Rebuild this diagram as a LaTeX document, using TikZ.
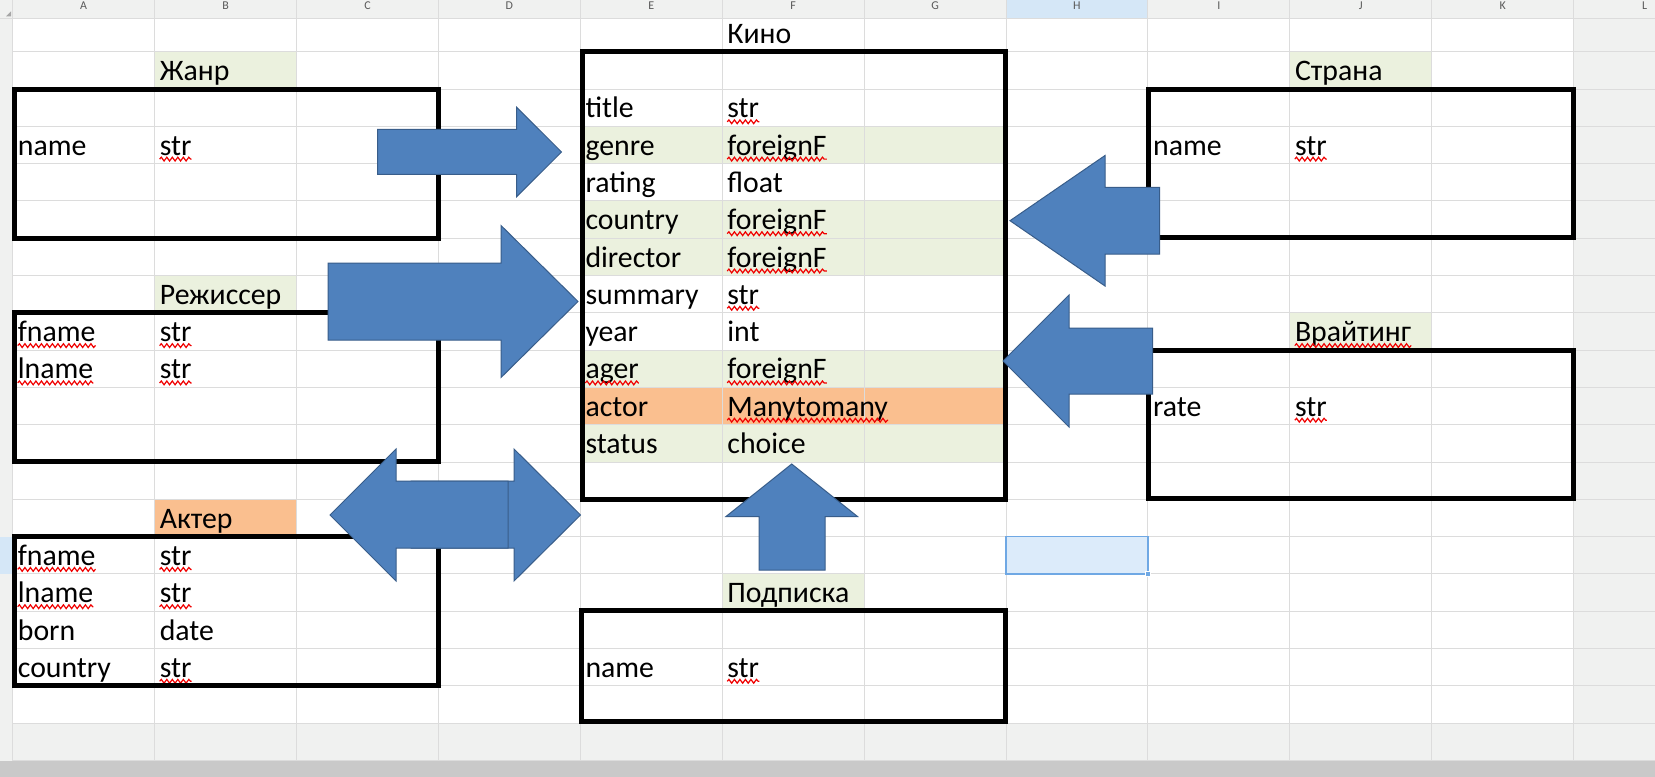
\documentclass[tikz,border=0pt]{standalone}
\usepackage{fontspec}
\setmainfont{Carlito}
\usetikzlibrary{decorations.pathmorphing}

\definecolor{gridgray}{HTML}{DCDCDC}
\definecolor{sheetgray}{HTML}{F0F1F0}
\definecolor{labelgreen}{HTML}{EBF1DE}
\definecolor{labelorange}{HTML}{FABF8F}
\definecolor{arrowblue}{HTML}{4F81BD}
\definecolor{arrowedge}{HTML}{385D8A}
\definecolor{selblue}{HTML}{DCEBFA}
\definecolor{seledge}{HTML}{6FA8E4}
\definecolor{headblue}{HTML}{D5E7F7}
\definecolor{squigred}{HTML}{F00000}

\newcommand{\cellfont}{\fontsize{29.9}{36}\selectfont}
\newcommand{\squig}[1]{\draw[squiggle] ([yshift=-4bp]#1.base west) -- ([yshift=-4bp]#1.base east);}

\tikzset{
    cell/.style={anchor=base west, inner sep=0pt, font=\cellfont},
    colhead/.style={anchor=base, inner sep=0pt, font=\fontsize{12}{14}\selectfont, text=black!65},
    gridline/.style={draw=gridgray, line width=1bp},
    tablebox/.style={draw=black, line width=5bp},
    blockarrow/.style={fill=arrowblue, draw=arrowedge, line width=1bp, line join=miter},
    squiggle/.style={draw=squigred, line width=1.2bp, decorate, decoration={snake, segment length=5.5bp, amplitude=1.9bp}},
}

\begin{document}
\begin{tikzpicture}[x=1bp,y=-1bp]
    \useasboundingbox (0,0) rectangle (1655,777);

    % Sheet
    \fill[sheetgray] (0,0) rectangle (1655,777);
    \fill[white] (12.7,18.3) rectangle (1573.6,723.1);

    % Coloured cells
    \fill[labelgreen]  (154.6,51.7)  rectangle (296.5,89);
    \fill[labelgreen]  (154.6,275.5) rectangle (296.5,312.8);
    \fill[labelorange] (154.6,499.3) rectangle (296.5,536.6);
    \fill[labelgreen]  (722.2,573.9) rectangle (864.1,611.2);
    \fill[labelgreen]  (1289.8,51.7) rectangle (1431.7,89);
    \fill[labelgreen]  (1289.8,312.8) rectangle (1431.7,350.1);

    \fill[labelgreen]  (580.3,126.3) rectangle (1006,163.6);
    \fill[labelgreen]  (580.3,200.9) rectangle (1006,275.5);
    \fill[labelgreen]  (580.3,350.1) rectangle (1006,387.4);
    \fill[labelorange] (580.3,387.4) rectangle (1006,424.7);
    \fill[labelgreen]  (580.3,424.7) rectangle (1006,462);

    \fill[selblue] (1006,536.6) rectangle (1147.9,573.9);

    % Grid
    \foreach \c in {0,...,11}
        \draw[gridline] ({12.7+141.9*\c},18.3) -- ({12.7+141.9*\c},761);
    \foreach \r in {1,...,20}
        \draw[gridline] (12.7,{14.4+37.3*\r}) -- (1655,{14.4+37.3*\r});

    % Headers
    \fill[sheetgray] (0,0) rectangle (1655,18.3);
    \fill[sheetgray] (0,0) rectangle (12.7,761);
    \fill[headblue] (1006,0) rectangle (1147.9,18.3);
    \fill[headblue] (0,536.6) rectangle (12.7,573.9);
    \foreach \c in {0,...,11}
        \draw[gridline] ({12.7+141.9*\c},0) -- ({12.7+141.9*\c},18.3);
    \draw[gridline] (0,18.3) -- (1655,18.3);
    \draw[gridline] (12.7,0) -- (12.7,761);
    \fill[black!35] (6,16.5) -- (11,11.5) -- (11,16.5) -- cycle;
    \foreach \l [count=\i from 0] in {A,...,L}
        \node[colhead] (col\l) at ({83.65+141.9*\i},9.5) {\l};

    % Selected cell
    \draw[seledge, line width=1.5bp] (1006,536.6) rectangle (1147.9,573.9);
    \fill[seledge, draw=white, line width=0.8bp] (1145.4,571.4) rectangle (1150.4,576.4);

    % Zhanr
    \node[cell] (zhanr) at (159.6,80.5) {Жанр};
    \node[cell] (zhanr-name) at (17.7,155.1) {name};
    \node[cell] (zhanr-str) at (159.6,155.1) {str};
    \squig{zhanr-str}
    \draw[tablebox] (14.7,89) rectangle (438.4,238.2);

    % Rezhisser
    \node[cell] (rezh) at (159.6,304.3) {Режиссер};
    \node[cell] (rezh-fname) at (17.7,341.6) {fname};
    \node[cell] (rezh-fstr) at (159.6,341.6) {str};
    \node[cell] (rezh-lname) at (17.7,378.9) {lname};
    \node[cell] (rezh-lstr) at (159.6,378.9) {str};
    \squig{rezh-fname} \squig{rezh-fstr} \squig{rezh-lname} \squig{rezh-lstr}
    \draw[tablebox] (14.7,312.8) rectangle (438.4,461);

    % Akter
    \node[cell] (akter) at (159.6,528.1) {Актер};
    \node[cell] (akter-fname) at (17.7,565.4) {fname};
    \node[cell] (akter-fstr) at (159.6,565.4) {str};
    \node[cell] (akter-lname) at (17.7,602.7) {lname};
    \node[cell] (akter-lstr) at (159.6,602.7) {str};
    \node[cell] (akter-born) at (17.7,640) {born};
    \node[cell] (akter-date) at (159.6,640) {date};
    \node[cell] (akter-country) at (17.7,677.3) {country};
    \node[cell] (akter-cstr) at (159.6,677.3) {str};
    \squig{akter-fname} \squig{akter-fstr} \squig{akter-lname} \squig{akter-lstr} \squig{akter-cstr}
    \draw[tablebox] (14.7,536.6) rectangle (438.4,685);

    % Kino
    \node[cell] (kino) at (727.2,43.2) {Кино};
    \node[cell] (kino-title) at (585.3,117.8) {title};
    \node[cell] (kino-titlet) at (727.2,117.8) {str};
    \node[cell] (kino-genre) at (585.3,155.1) {genre};
    \node[cell] (kino-genret) at (727.2,155.1) {foreignF};
    \node[cell] (kino-rating) at (585.3,192.4) {rating};
    \node[cell] (kino-ratingt) at (727.2,192.4) {float};
    \node[cell] (kino-country) at (585.3,229.7) {country};
    \node[cell] (kino-countryt) at (727.2,229.7) {foreignF};
    \node[cell] (kino-director) at (585.3,267) {director};
    \node[cell] (kino-directort) at (727.2,267) {foreignF};
    \node[cell] (kino-summary) at (585.3,304.3) {summary};
    \node[cell] (kino-summaryt) at (727.2,304.3) {str};
    \node[cell] (kino-year) at (585.3,341.6) {year};
    \node[cell] (kino-yeart) at (727.2,341.6) {int};
    \node[cell] (kino-ager) at (585.3,378.9) {ager};
    \node[cell] (kino-agert) at (727.2,378.9) {foreignF};
    \node[cell] (kino-actor) at (585.3,416.2) {actor};
    \node[cell] (kino-actort) at (727.2,416.2) {Manytomany};
    \node[cell] (kino-status) at (585.3,453.5) {status};
    \node[cell] (kino-statust) at (727.2,453.5) {choice};
    \squig{kino-titlet} \squig{kino-genret} \squig{kino-countryt} \squig{kino-directort}
    \squig{kino-summaryt} \squig{kino-ager} \squig{kino-agert} \squig{kino-actort}
    \draw[tablebox] (582,51.7) rectangle (1005,499.3);

    % Podpiska
    \node[cell] (podp) at (727.2,602.7) {Подписка};
    \node[cell] (podp-name) at (585.3,677.3) {name};
    \node[cell] (podp-str) at (727.2,677.3) {str};
    \squig{podp-str}
    \draw[tablebox] (581.5,610.5) rectangle (1005,721);

    % Strana
    \node[cell] (strana) at (1294.8,80.5) {Страна};
    \node[cell] (strana-name) at (1152.9,155.1) {name};
    \node[cell] (strana-str) at (1294.8,155.1) {str};
    \squig{strana-str}
    \draw[tablebox] (1148.7,89) rectangle (1573.8,237.6);

    % Vraiting
    \node[cell] (vrait) at (1294.8,341.6) {Врайтинг};
    \node[cell] (vrait-rate) at (1152.9,416.2) {rate};
    \node[cell] (vrait-str) at (1294.8,416.2) {str};
    \squig{vrait} \squig{vrait-str}
    \draw[tablebox] (1148.7,350) rectangle (1573.8,498.8);

    % Block arrows
    \draw[blockarrow] (377.5,129.3) -- (516.7,129.3) -- (516.7,107.3) -- (561.5,152) -- (516.7,196.7) -- (516.7,174.3) -- (377.5,174.3) -- cycle;
    \draw[blockarrow] (328,263) -- (501,263) -- (501,225.5) -- (578,301.5) -- (501,377.5) -- (501,340) -- (328,340) -- cycle;
    \draw[blockarrow] (411,481) -- (514,481) -- (514,449) -- (580.5,515) -- (514,581) -- (514,548) -- (411,548) -- cycle;
    \draw[blockarrow] (508,481) -- (396,481) -- (396,449) -- (330,515) -- (396,581) -- (396,548) -- (508,548) -- cycle;
    \draw[blockarrow] (1159.5,187.3) -- (1105,187.3) -- (1105,155.5) -- (1010,220.7) -- (1105,286) -- (1105,254) -- (1159.5,254) -- cycle;
    \draw[blockarrow] (1152.5,328) -- (1069,328) -- (1069,295) -- (1003,361) -- (1069,427) -- (1069,394) -- (1152.5,394) -- cycle;
    \draw[blockarrow] (759,570) -- (759,516.5) -- (726,516.5) -- (791.7,464) -- (857.5,516.5) -- (825,516.5) -- (825,570) -- cycle;

    % Scroll bar
    \fill[black!21] (0,761) rectangle (1655,777);
\end{tikzpicture}
\end{document}
